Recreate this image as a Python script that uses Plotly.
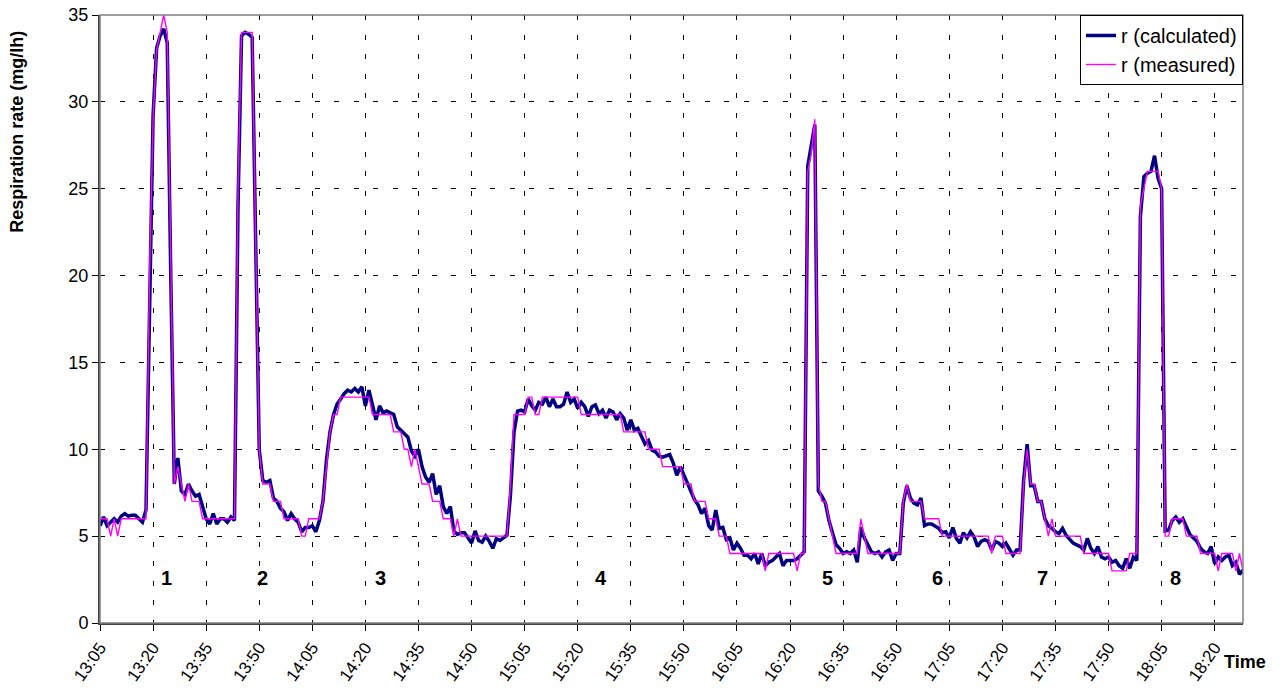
import pandas as pd
import plotly.graph_objects as go

START = "2000-01-01 13:05"

# r (calculated), one value per minute from 13:05
calc = [
    5.6, 6.1, 5.6, 5.8, 6.0, 5.8, 6.15, 6.3, 6.15, 6.2,
    6.2, 6.0, 5.8, 6.5, 18.0, 29.2, 33.1, 33.8, 34.2, 33.4,
    20.0, 8.0, 9.5, 7.6, 7.4, 8.0, 7.6, 7.3, 7.4, 6.6,
    6.0, 5.7, 6.3, 5.7, 6.0, 6.0, 5.8, 6.1, 5.9, 24.0,
    33.8, 34.0, 33.9, 33.7, 22.0, 10.0, 8.2, 8.1, 8.2, 7.2,
    7.0, 6.6, 6.4, 5.9, 6.3, 6.0, 5.8, 5.25, 5.5, 5.5,
    5.6, 5.25, 5.9, 7.0, 9.4, 11.0, 12.0, 12.6, 12.9, 13.2,
    13.4, 13.3, 13.5, 13.3, 13.6, 12.5, 13.4, 12.6, 11.7, 12.5,
    12.1, 12.2, 12.1, 12.0, 11.3, 11.1, 10.9, 10.7, 9.9, 9.6,
    10.0, 9.0, 8.4, 8.1, 8.6, 7.4, 7.9, 6.7, 6.3, 6.7,
    5.3, 5.1, 5.2, 5.2, 4.9, 4.6, 5.3, 4.75, 4.65, 5.0,
    4.7, 4.3, 4.85, 4.75, 4.9, 5.05, 7.4, 11.0, 12.2, 12.25,
    12.15, 12.9, 12.5, 12.25, 12.7, 12.6, 13.0, 12.45, 12.9, 12.45,
    12.45, 12.6, 13.3, 12.7, 12.9, 12.35, 12.7, 12.45, 11.9, 12.45,
    12.55, 12.05, 12.25, 11.8, 12.25, 12.15, 11.7, 12.05, 11.8, 11.1,
    11.7, 11.1, 11.2, 10.8, 10.3, 10.5, 9.95, 9.85, 9.6, 9.55,
    9.65, 9.7, 9.2, 8.5, 9.0, 8.5, 8.0, 7.6, 7.1, 6.8,
    6.3, 6.6, 5.6, 5.35, 6.5, 5.45, 5.5, 4.8, 4.9, 4.2,
    4.6, 4.3, 3.9, 3.9, 3.7, 4.0, 3.4, 4.0, 3.3, 3.5,
    3.6, 3.8, 4.0, 3.3, 3.6, 3.6, 3.6, 3.7, 3.9, 4.1,
    26.3, 27.4, 28.7, 7.6, 7.3, 6.9, 5.9, 5.2, 4.5, 4.3,
    4.0, 4.1, 4.0, 4.2, 3.5, 5.5, 4.9, 4.5, 4.1, 4.0,
    4.1, 3.8, 4.1, 4.2, 3.6, 4.0, 4.0, 6.9, 7.9, 7.2,
    6.9, 6.8, 7.2, 5.6, 5.7, 5.7, 5.6, 5.45, 5.2, 5.25,
    4.9, 5.5, 4.87, 4.6, 5.2, 4.9, 5.25, 4.96, 4.4, 4.7,
    4.8, 4.7, 4.2, 4.7, 4.6, 4.4, 4.6, 4.2, 3.9, 4.2,
    4.2, 8.2, 10.3, 7.9, 7.9, 7.0, 7.0, 6.0, 5.6, 5.45,
    5.25, 5.15, 5.45, 5.05, 4.8, 4.6, 4.5, 4.4, 4.2, 4.87,
    4.3, 4.0, 4.4, 3.8, 3.7, 3.8, 3.5, 3.6, 3.3, 3.15,
    3.7, 3.15, 3.8, 3.6, 23.4, 25.7, 25.9, 26.0, 26.9, 25.6,
    25.0, 5.3, 5.35, 5.9, 6.1, 5.8, 6.0, 5.5, 5.1, 4.9,
    4.7, 4.3, 4.1, 4.0, 4.4, 3.4, 3.8, 3.6, 3.8, 3.9,
    3.3, 3.5, 2.8, 3.05,
]

# r (measured), one value per minute from 13:05
meas = [
    6, 6, 6, 5, 6, 5, 6, 6, 6, 6,
    6, 6, 6, 6, 20, 29, 33, 34, 35, 34,
    20, 8, 9, 8, 7, 8, 7, 7, 7, 6,
    6, 6, 6, 6, 6, 6, 6, 6, 6, 25,
    34, 34, 34, 34, 22, 10, 8, 8, 8, 7,
    7, 7, 6, 6, 6, 6, 6, 5, 5, 6,
    6, 6, 6, 7, 9, 11, 12, 12, 13, 13,
    13, 13, 13, 13, 13, 13, 13, 12, 12, 12,
    12, 12, 12, 11, 11, 11, 10, 10, 9, 10,
    9, 8, 8, 8, 7, 7, 7, 6, 6, 6,
    5, 6, 5, 5, 5, 5, 5, 5, 5, 5,
    5, 5, 5, 5, 5, 5, 8, 12, 12, 12,
    12, 13, 13, 12, 12, 13, 13, 13, 13, 13,
    13, 13, 13, 13, 13, 13, 12, 12, 12, 12,
    12, 12, 12, 12, 12, 12, 12, 12, 11, 11,
    11, 11, 11, 11, 11, 10, 10, 10, 10, 9,
    9, 9, 9, 9, 9, 8, 8, 8, 7, 7,
    7, 7, 6, 6, 6, 5, 5, 5, 4, 4,
    4, 4, 4, 4, 4, 4, 4, 4, 3, 4,
    4, 4, 4, 4, 4, 4, 4, 3, 4, 4,
    26, 27, 29, 8, 7, 7, 6, 5, 4, 4,
    4, 4, 4, 4, 4, 6, 5, 4, 4, 4,
    4, 4, 4, 4, 4, 4, 4, 7, 8, 7,
    7, 7, 7, 6, 6, 6, 6, 6, 5, 5,
    5, 5, 5, 5, 5, 5, 5, 5, 5, 5,
    5, 5, 4, 5, 5, 5, 4, 4, 4, 4,
    4, 8, 10, 8, 8, 7, 7, 6, 5, 6,
    5, 5, 5, 5, 5, 5, 5, 5, 4, 4,
    4, 4, 4, 4, 4, 4, 3, 3, 3, 3,
    3, 4, 4, 4, 24, 25, 26, 26, 26, 26,
    25, 5, 5, 6, 6, 6, 6, 5, 5, 5,
    5, 4, 4, 4, 4, 4, 3, 4, 4, 4,
    4, 3, 4, 3,
]

series_names = ["r (calculated)", "r (measured)"]
phase_labels = ["1", "2", "3", "4", "5", "6", "7", "8"]
phase_minutes = [18.8, 46.0, 79.2, 141.7, 205.5, 236.6, 266.2, 303.8]
phase_level = 2.6
y_title = "Respiration rate (mg/lh)"
x_title = "Time"

t0 = pd.Timestamp(START)
times = pd.date_range(START, periods=len(calc), freq="1min")
x_end = t0 + pd.Timedelta(minutes=len(calc) - 1)

FONT = "Arial, Liberation Sans, sans-serif"

fig = go.Figure()
fig.add_trace(go.Scatter(x=times, y=calc, mode="lines", name=series_names[0],
                         line=dict(color="#000080", width=3.5)))
fig.add_trace(go.Scatter(x=times, y=meas, mode="lines", name=series_names[1],
                         line=dict(color="#FF00FF", width=1.4)))

for lab, mm in zip(phase_labels, phase_minutes):
    fig.add_annotation(x=t0 + pd.Timedelta(minutes=mm), y=phase_level, text="<b>%s</b>" % lab,
                       showarrow=False, font=dict(family=FONT, size=20, color="black"))

# x-axis title at the right end below the axis
fig.add_annotation(xref="paper", yref="paper", x=1.0, y=-0.045, xanchor="center", yanchor="top",
                   xshift=2, text="<b>%s</b>" % x_title, showarrow=False,
                   font=dict(family=FONT, size=18, color="black"))

# y-axis title, placed high on the left as in the original
fig.add_annotation(xref="paper", yref="paper", x=-0.0726, y=0.808, xanchor="center", yanchor="middle",
                   textangle=-90, text="<b>%s</b>" % y_title, showarrow=False,
                   font=dict(family=FONT, size=18, color="black"))

grid_dash = "5px,14.5px"
fig.update_layout(
    width=1280, height=689,
    margin=dict(l=100, r=37, t=15, b=66, autoexpand=False),
    paper_bgcolor="white", plot_bgcolor="white",
    font=dict(family=FONT, size=17, color="black"),
    showlegend=True,
    legend=dict(x=1, y=1, xanchor="right", yanchor="top", bgcolor="white",
                bordercolor="black", borderwidth=1, font=dict(family=FONT, size=20),
                tracegroupgap=0, itemwidth=30),
    xaxis=dict(type="date", range=[t0, x_end], tick0=t0, dtick=15 * 60 * 1000,
               tickformat="%H:%M", tickangle=-55, ticks="outside", ticklen=6,
               tickcolor="black", showline=True, linecolor="#404040", linewidth=2,
               showgrid=True, gridcolor="black", gridwidth=1, griddash=grid_dash,
               zeroline=False, automargin=False, tickfont=dict(family=FONT, size=17)),
    yaxis=dict(range=[0, 35], dtick=5, ticks="outside", ticklen=6, tickcolor="black",
               showline=True, linecolor="#404040", linewidth=2,
               showgrid=True, gridcolor="black", gridwidth=1, griddash=grid_dash,
               zeroline=False, automargin=False, tickfont=dict(family=FONT, size=18)),
    shapes=[dict(type="rect", xref="paper", yref="paper", x0=0, y0=0, x1=1, y1=1,
                 line=dict(color="#808080", width=1.5), layer="above")],
)

fig.write_html("out.html", config={"displayModeBar": False},
               post_script="document.body.style.margin='0';")
